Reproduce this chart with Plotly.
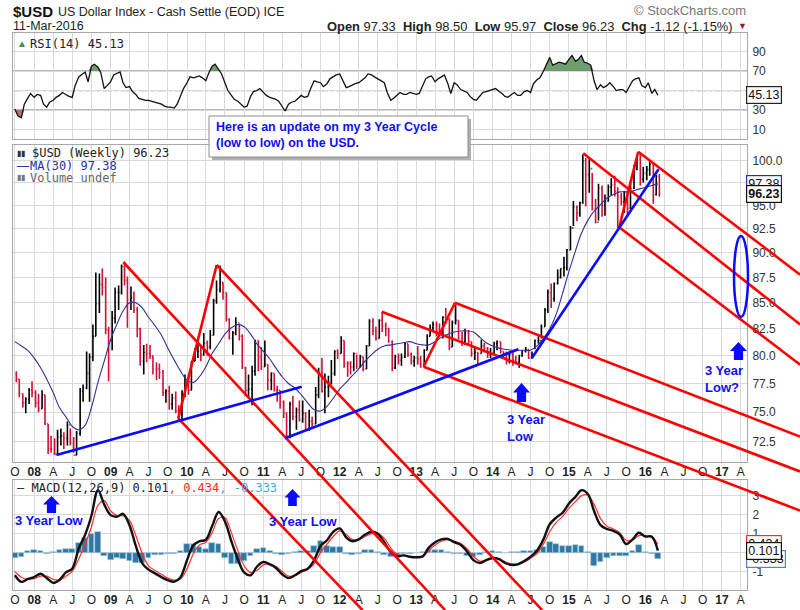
import numpy as np
import pandas as pd
import plotly.graph_objects as go

W, H = 800, 610

bar_dates = pd.date_range("2007-10-01", periods=203, freq="SMS") + pd.Timedelta(days=7)
highs = [78.6, 77.9, 76.6, 76.3, 77.1, 77.7,
         76.9, 76.6, 76.9, 76.5, 74.0, 73.0, 72.8, 73.5, 73.6, 73.3, 74.2, 73.6,
         72.9, 73.4, 77.1, 77.4, 80.4, 80.2, 82.9, 88.0, 87.9, 88.4, 87.5, 82.7,
         84.2, 86.5, 86.7, 88.8, 89.1, 87.6, 86.6, 86.1, 84.6, 82.6, 81.0, 81.1,
         81.0, 80.0, 79.4, 79.3, 78.7, 77.0, 77.3, 76.6, 76.8, 75.6, 76.9, 78.3,
         78.2, 79.5, 80.7, 81.3, 80.9, 82.1, 81.4, 82.4, 85.4, 87.2, 88.7, 87.0,
         86.0, 83.5, 82.3, 83.6, 83.0, 82.0, 79.0, 78.3, 79.1, 81.4, 81.4, 80.8,
         81.4, 79.2, 78.5, 78.4, 77.3, 76.9, 76.0, 75.0, 75.9, 76.4, 75.4, 76.0,
         76.0, 75.0, 75.2, 74.6, 77.2, 78.9, 79.8, 78.4, 78.2, 79.6, 80.5, 80.6,
         81.8, 81.4, 79.5, 79.5, 80.3, 80.1, 80.1, 79.9, 81.0, 83.4, 83.5, 82.7,
         83.4, 84.1, 83.1, 82.6, 81.4, 80.1, 80.2, 80.2, 81.2, 81.1, 80.3, 80.0,
         80.9, 80.0, 80.6, 82.0, 82.9, 83.2, 83.2, 83.0, 83.7, 84.5, 83.5, 83.3,
         84.8, 83.3, 82.2, 82.5, 82.4, 81.3, 80.8, 80.3, 81.5, 81.2, 80.8, 80.7,
         81.3, 81.4, 81.3, 80.4, 80.4, 80.4, 80.3, 80.0, 80.1, 80.5, 80.8, 80.6,
         80.4, 81.5, 81.8, 82.9, 84.5, 86.3, 86.9, 87.0, 88.3, 88.4, 89.6, 90.4,
         92.8, 95.5, 95.0, 95.4, 100.7, 100.3, 100.2, 98.6, 95.7, 97.4, 97.2, 96.2,
         97.3, 98.0, 98.3, 97.0, 96.4, 96.6, 96.3, 97.4, 99.5, 100.3, 100.8, 99.3,
         99.4, 99.9, 99.6, 98.4, 98.5]
lows = [77.6, 76.3, 75.4, 74.9, 75.7, 76.3,
        75.4, 75.0, 75.3, 73.9, 71.5, 71.6, 71.4, 71.5, 72.2, 71.9, 72.2, 72.2,
        71.6, 71.4, 73.0, 75.9, 77.0, 75.9, 79.5, 81.8, 84.0, 85.7, 82.0, 77.7,
        80.5, 83.0, 84.3, 85.8, 86.7, 82.6, 84.3, 84.0, 81.7, 79.1, 78.3, 79.4,
        79.7, 78.3, 77.8, 77.9, 76.4, 75.8, 75.2, 75.2, 74.9, 74.2, 74.3, 76.3,
        76.5, 76.9, 79.5, 79.8, 79.5, 80.0, 80.0, 80.6, 81.9, 84.9, 86.0, 85.3,
        83.2, 81.5, 80.1, 81.9, 81.4, 78.8, 76.4, 76.3, 75.6, 78.2, 78.6, 78.7,
        79.0, 76.9, 76.9, 76.8, 75.9, 75.3, 74.5, 72.8, 72.8, 74.3, 73.5, 74.2,
        74.1, 73.4, 73.4, 73.6, 74.0, 76.2, 76.7, 74.9, 76.3, 77.4, 78.2, 79.7,
        80.2, 78.9, 78.1, 78.3, 78.6, 78.8, 78.9, 78.6, 78.8, 80.9, 81.9, 81.4,
        81.6, 82.2, 81.8, 81.2, 78.6, 78.8, 79.2, 79.1, 79.8, 79.9, 79.2, 79.0,
        79.2, 78.9, 79.1, 80.5, 81.8, 82.3, 81.8, 81.7, 81.6, 83.0, 80.5, 80.8,
        82.9, 81.5, 80.9, 81.0, 81.0, 79.9, 79.6, 79.1, 80.2, 80.3, 79.8, 79.8,
        80.1, 80.5, 80.2, 79.7, 79.2, 79.3, 79.1, 79.2, 78.9, 79.9, 80.3, 79.7,
        79.8, 80.6, 81.1, 81.6, 82.7, 84.0, 84.5, 85.1, 86.8, 87.4, 87.6, 88.2,
        90.3, 92.8, 93.3, 93.8, 95.2, 94.9, 96.4, 94.5, 93.1, 93.4, 93.8, 93.9,
        95.4, 96.1, 96.0, 92.6, 95.0, 94.2, 93.8, 94.6, 96.8, 98.9, 97.2, 97.5,
        97.8, 98.3, 95.2, 96.1, 95.97]
closes = [77.9, 76.6, 75.8, 76.1, 76.9, 76.7,
          75.8, 75.3, 76.5, 74.0, 71.9, 71.9, 71.5, 72.9, 73.0, 72.8, 73.9, 72.4,
          71.4, 73.2, 76.8, 77.1, 78.4, 79.9, 81.8, 84.9, 86.8, 86.5, 82.4, 81.4,
          83.5, 86.0, 86.0, 88.6, 87.2, 85.3, 85.5, 84.3, 82.5, 79.5, 80.3, 80.2,
          80.0, 78.8, 78.8, 78.5, 76.7, 76.8, 75.7, 76.2, 75.1, 74.8, 76.5, 77.9,
          76.9, 79.5, 80.4, 80.4, 80.1, 81.2, 80.8, 81.9, 85.2, 86.3, 87.0, 86.0,
          83.4, 81.6, 82.1, 83.1, 81.8, 78.9, 76.9, 77.0, 78.6, 81.4, 79.9, 79.0,
          79.2, 77.8, 78.4, 76.9, 76.9, 75.9, 74.9, 73.0, 75.7, 74.6, 75.2, 74.3,
          74.9, 73.6, 74.2, 74.0, 76.5, 78.5, 76.8, 77.2, 77.6, 78.4, 80.4, 80.2,
          81.4, 79.3, 79.3, 79.0, 80.2, 79.0, 79.9, 78.8, 80.9, 83.2, 82.3, 81.6,
          83.3, 82.8, 82.5, 81.3, 78.9, 79.9, 79.6, 79.9, 81.1, 80.1, 79.5, 79.8,
          79.7, 79.2, 80.5, 81.8, 82.6, 82.9, 82.3, 82.0, 83.6, 83.4, 80.8, 83.1,
          83.3, 81.6, 81.3, 82.1, 81.3, 80.2, 80.3, 80.2, 80.9, 80.7, 80.1, 80.2,
          81.1, 81.3, 80.4, 79.8, 79.5, 80.1, 79.6, 79.4, 80.0, 80.4, 80.6, 79.8,
          80.1, 81.4, 81.4, 82.7, 84.3, 86.0, 85.4, 86.9, 87.5, 88.4, 88.5, 90.3,
          92.6, 94.8, 94.2, 95.3, 100.0, 98.4, 99.1, 94.6, 93.2, 96.9, 95.0, 95.5,
          97.0, 97.3, 96.6, 96.0, 95.4, 96.4, 94.7, 96.9, 99.0, 100.2, 97.9, 98.6,
          99.0, 99.6, 96.2, 98.2, 96.23]
opens = [78.3] + closes[:-1]

# RSI(14), read every half month
rsi_dates = pd.date_range("2007-10-01", periods=203, freq="SMS")
rsi = [31, 24, 22, 36, 42, 47, 43, 46, 45, 36, 33, 38, 40, 43, 45, 48, 46, 44, 43, 55,
       64, 66, 69, 59, 75, 77, 74, 68, 52, 55, 59, 66, 68, 69, 58, 53, 54, 49, 46, 42,
       41, 40, 40, 39, 38, 37, 36, 34, 33, 33, 32, 36, 44, 52, 58, 64, 63, 64, 65, 63,
       60, 68, 75, 77, 72, 67, 58, 50, 45, 41, 39, 36, 33, 34, 44, 49, 50, 52, 48, 45,
       43, 42, 41, 39, 33, 29, 36, 38, 39, 42, 45, 43, 44, 52, 60, 59, 58, 54, 57, 62,
       64, 66, 67, 60, 53, 54, 56, 57, 58, 60, 63, 67, 66, 64, 62, 60, 58, 48, 40, 42,
       45, 48, 46, 46, 48, 47, 46, 47, 55, 62, 64, 65, 59, 62, 64, 66, 57, 47, 58, 56,
       51, 50, 48, 44, 41, 40, 44, 48, 49, 50, 51, 52, 49, 47, 44, 43, 46, 48, 45, 45,
       49, 50, 48, 57, 61, 63, 70, 77, 84, 76, 78, 79, 78, 77, 82, 86, 80, 82, 86, 79,
       78, 76, 60, 51, 56, 53, 55, 58, 54, 50, 51, 51, 48, 53, 60, 62, 63, 55, 53, 58,
       47, 51, 45.13]

# monthly readings of MA(30) and MACD(12,26,9)
m_dates = pd.date_range("2007-10-01", periods=102, freq="MS")
ma30 = [81.3, 80.9, 80.5, 79.8, 78.9, 77.9, 76.7, 75.4, 74.6, 73.8,
        73.5, 73.9, 75.4, 77.6, 79.5, 81.5, 83.0, 84.2, 85.0, 85.0,
        84.5, 83.6, 82.8, 81.9, 80.7, 79.6, 78.6, 77.8, 77.6, 78.1,
        79.0, 80.2, 81.1, 82.0, 82.6, 82.9, 82.7, 82.0, 81.1, 80.4,
        79.7, 78.9, 78.1, 77.5, 77.1, 76.5, 75.8, 75.2, 75.1, 75.5,
        76.2, 77.0, 77.6, 78.2, 78.8, 79.5, 80.1, 80.6, 80.9, 81.0,
        81.1, 81.2, 81.3, 81.1, 81.0, 81.0, 81.3, 81.7, 82.0, 82.2,
        82.3, 82.3, 82.2, 81.7, 81.2, 80.9, 80.7, 80.6, 80.5, 80.5,
        80.5, 80.5, 80.9, 81.6, 82.5, 83.9, 85.9, 88.1, 90.2, 92.0,
        93.4, 94.4, 95.1, 95.8, 96.2, 96.5, 96.5, 96.6, 96.8, 97.0,
        97.2, 97.38]
macd = [-1.2, -1.55, -1.4, -1.3, -1.12, -1.35, -1.6, -1.45, -1.05, -0.85,
        0.2, 0.95, 1.95, 3.3, 2.55, 1.98, 1.9, 2.05, 1.45, 0.35,
        -0.57, -0.9, -1.1, -1.3, -1.46, -1.54, -1.3, -0.4, 0.4, 0.6,
        0.68, 1.4, 2.15, 1.65, 0.6, -0.35, -1.05, -1.2, -0.75, -0.5,
        -0.62, -0.8, -1.15, -1.35, -1.2, -0.98, -0.85, -0.4, 0.35, 0.65,
        1.1, 1.28, 0.8, 0.6, 0.7, 0.95, 1.1, 1.0, 0.55, 0.02,
        -0.2, -0.15, -0.22, -0.25, -0.2, 0.25, 0.55, 0.7, 0.72, 0.55,
        0.42, 0.05, -0.4, -0.55, -0.4, -0.28, -0.35, -0.55, -0.65, -0.62,
        -0.45, -0.22, 0.1, 0.7, 1.5, 1.85, 2.1, 2.6, 2.95, 3.3,
        3.1, 2.2, 1.45, 1.25, 1.15, 0.95, 0.45, 0.7, 1.05, 0.85,
        0.84, 0.101]
signal = [-1.0, -1.3, -1.42, -1.38, -1.25, -1.25, -1.42, -1.45, -1.25, -1.0,
          -0.35, 0.45, 1.35, 2.5, 2.75, 2.2, 1.95, 1.95, 1.7, 0.9,
          -0.05, -0.7, -0.95, -1.15, -1.35, -1.45, -1.4, -0.85, -0.05, 0.4,
          0.55, 1.05, 1.8, 1.85, 1.05, 0.1, -0.7, -1.05, -0.95, -0.65,
          -0.6, -0.72, -1.0, -1.25, -1.22, -1.05, -0.9, -0.6, 0.0, 0.45,
          0.85, 1.15, 0.95, 0.7, 0.68, 0.85, 1.0, 1.02, 0.75, 0.25,
          -0.1, -0.15, -0.2, -0.23, -0.2, 0.1, 0.4, 0.6, 0.68, 0.6,
          0.48, 0.2, -0.2, -0.45, -0.42, -0.33, -0.35, -0.48, -0.6, -0.6,
          -0.5, -0.3, -0.05, 0.45, 1.1, 1.6, 1.9, 2.35, 2.7, 3.0,
          3.05, 2.55, 1.8, 1.4, 1.25, 1.05, 0.65, 0.65, 0.9, 0.88,
          0.85, 0.434]
hist = [-0.3, -0.25, 0.1, 0.12, 0.1, -0.05, 0.05, 0.15, 0.2, 0.2,
        0.5, 0.75, 1.0, 1.1, -0.2, -0.4, -0.3, -0.35, -0.45, -0.55,
        -0.57, -0.3, -0.15, -0.12, -0.1, -0.1, 0.1, 0.45, 0.45, 0.3,
        0.2, 0.5, 0.45, -0.3, -0.6, -0.6, -0.45, -0.2, 0.2, 0.22,
        0.1, -0.1, -0.15, -0.1, 0.05, 0.08, 0.1, 0.35, 0.6, 0.35,
        0.3, 0.28, -0.1, -0.12, -0.05, 0.12, 0.15, 0.05, -0.15, -0.25,
        -0.15, -0.05, -0.05, 0.0, 0.05, 0.15, 0.15, 0.12, 0.05, -0.1,
        -0.1, -0.2, -0.25, -0.12, 0.05, 0.1, 0.05, 0.0, 0.05, 0.05,
        0.08, 0.1, 0.15, 0.3, 0.55, 0.45, 0.35, 0.35, 0.4, 0.35,
        0.05, -0.7, -0.5, -0.3, -0.2, -0.2, -0.2, 0.1, 0.4, 0.05,
        -0.1, -0.333]

# hand-drawn trend lines: start date/price -> end date/price
red_x0 = ["2009-03-03", "2009-11-20", "2009-11-20", "2010-05-23", "2012-07-20", "2013-07-05",
          "2013-02-05", "2013-02-05", "2015-03-10", "2015-11-28", "2015-08-29", "2015-08-29"]
red_y0 = [89.03, 74.47, 74.47, 88.75, 84.13, 85.00, 79.00, 79.00, 100.85, 101.03, 92.66, 92.66]
red_x1 = ["2013-05-19", "2012-04-19", "2010-05-23", "2014-08-26", "2018-01-10", "2018-01-10",
          "2018-01-10", "2013-07-05", "2018-01-10", "2018-01-10", "2018-01-10", "2015-11-28"]
red_y1 = [59.8, 59.8, 88.75, 59.8, 70.07, 72.93, 67.01, 85.00, 82.91, 87.78, 79.19, 101.03]
blue_x0 = ["2008-04-17", "2011-04-15", "2014-07-07"]
blue_y0 = [71.41, 72.79, 79.77]
blue_x1 = ["2011-07-03", "2014-05-04", "2016-03-04"]
blue_y1 = [77.21, 80.59, 99.02]

price_ticks = [72.5, 75.0, 77.5, 80.0, 82.5, 85.0, 87.5, 90.0, 92.5, 95.0, 97.5, 100.0]
rsi_ticks = [10, 30, 50, 70, 90]
macd_ticks = [-1, 0, 1, 2, 3]

assert len(highs) == len(lows) == len(closes) == len(rsi) == 203
assert len(ma30) == len(macd) == len(signal) == len(hist) == 102


def dom(top, bottom):
    return [1 - bottom / H, 1 - top / H]


def pp(x, y):
    return x / W, 1 - y / H


FONT = "Liberation Sans, Arial, sans-serif"
MONO = "DejaVu Sans Mono, monospace"
BLUE = "#1010f0"

fig = go.Figure()

# RSI panel
rsi_arr = np.array(rsi, dtype=float)
n = len(rsi)
fig.add_trace(go.Scatter(x=rsi_dates, y=[70] * n, line=dict(width=0), xaxis="x", yaxis="y", hoverinfo="skip"))
fig.add_trace(go.Scatter(x=rsi_dates, y=np.maximum(rsi_arr, 70), fill="tonexty", fillcolor="rgba(98,148,98,0.9)",
                         line=dict(width=0), xaxis="x", yaxis="y", hoverinfo="skip"))
fig.add_trace(go.Scatter(x=rsi_dates, y=[30] * n, line=dict(width=0), xaxis="x", yaxis="y", hoverinfo="skip"))
fig.add_trace(go.Scatter(x=rsi_dates, y=np.minimum(rsi_arr, 30), fill="tonexty", fillcolor="rgba(180,100,95,0.9)",
                         line=dict(width=0), xaxis="x", yaxis="y", hoverinfo="skip"))
fig.add_trace(go.Scatter(x=rsi_dates, y=rsi, mode="lines", line=dict(color="#111", width=1.3),
                         xaxis="x", yaxis="y"))

# price panel
fig.add_trace(go.Ohlc(x=bar_dates, open=opens, high=highs, low=lows, close=closes,
                      increasing_line_color="#000000", decreasing_line_color="#d01038",
                      line=dict(width=1.6), tickwidth=0.35, xaxis="x2", yaxis="y2"))
fig.add_trace(go.Scatter(x=m_dates, y=ma30, mode="lines", line=dict(color="#30309a", width=1.1, shape="spline"),
                         xaxis="x2", yaxis="y2"))

# MACD panel
fig.add_trace(go.Bar(x=m_dates, y=hist, marker=dict(color="#2f78a4", line=dict(color="#a9cbe0", width=0.6)),
                     width=27 * 86400000, xaxis="x3", yaxis="y3"))
fig.add_trace(go.Scatter(x=m_dates, y=signal, mode="lines", line=dict(color="#ff3030", width=1.2, shape="spline"),
                         xaxis="x3", yaxis="y3"))
fig.add_trace(go.Scatter(x=m_dates, y=macd, mode="lines", line=dict(color="#111", width=2.4, shape="spline"),
                         xaxis="x3", yaxis="y3"))

# trend lines on a full-figure overlay with the same date / log-price scale
for a, b, c, d in zip(red_x0, red_y0, red_x1, red_y1):
    fig.add_trace(go.Scatter(x=[a, c], y=[b, d], mode="lines", line=dict(color="#ff0000", width=2.6),
                             xaxis="x4", yaxis="y4"))
for a, b, c, d in zip(blue_x0, blue_y0, blue_x1, blue_y1):
    fig.add_trace(go.Scatter(x=[a, c], y=[b, d], mode="lines", line=dict(color="#0a0aff", width=2.6),
                             xaxis="x4", yaxis="y4"))

# quarterly ticks
qtr = pd.date_range("2007-10-01", "2017-04-01", freq="QS")
qtr_text = []
for d in qtr:
    if d.month == 1:
        qtr_text.append("<b>%02d</b>" % (d.year % 100))
    else:
        qtr_text.append({4: "A", 7: "J", 10: "O"}[d.month])

x_range = ["2007-09-22", "2017-05-01"]
xdom = [13 / W, 747 / W]
grid = "#d9d9d9"
border = "#a8a8a8"
tickfont = dict(family=FONT, size=12, color="#222")

xcommon = dict(type="date", range=x_range, domain=xdom, showgrid=True, gridcolor=grid, tickvals=qtr,
               ticktext=qtr_text, ticks="", showline=True, linecolor=border, mirror=True,
               tickfont=tickfont, zeroline=False, automargin=False, ticklabelstandoff=-1)
ycommon = dict(side="right", showgrid=True, gridcolor=grid, ticks="", showline=True, linecolor=border,
               mirror=True, tickfont=dict(family=FONT, size=12, color="#333"), zeroline=False,
               automargin=False, ticklabelstandoff=2)

lg = lambda v: np.log10(v)

fig.update_layout(
    width=W, height=H, margin=dict(l=0, r=0, t=0, b=0, pad=0, autoexpand=False),
    paper_bgcolor="white", plot_bgcolor="rgba(0,0,0,0)", showlegend=False, hovermode=False,
    bargap=0,
    xaxis=dict(xcommon, anchor="y", showticklabels=False),
    xaxis2=dict(xcommon, anchor="y2", rangeslider=dict(visible=False)),
    xaxis3=dict(xcommon, anchor="y3"),
    yaxis=dict(ycommon, domain=dom(33, 139), range=[0.3, 109], tickvals=rsi_ticks,
               ticktext=["10", "30", "", "70", "90"], anchor="x"),
    yaxis2=dict(ycommon, domain=dom(145, 462), type="log", range=[1.85029, 2.0078],
                tickvals=price_ticks, ticktext=["" if v == 97.5 else "%.1f" % v for v in price_ticks],
                anchor="x2"),
    yaxis3=dict(ycommon, domain=dom(480, 590), range=[-1.98, 3.84], tickvals=macd_ticks,
                ticktext=["-1", "", "1", "2", "3"], anchor="x3"),
    xaxis4=dict(type="date", domain=[0, 1], range=["2007-07-22", "2018-01-09 10:00"], visible=False,
                anchor="y4", automargin=False),
    yaxis4=dict(type="log", domain=[0, 1], range=[1.77674, 2.07985], visible=False, anchor="x4",
                automargin=False),
)

shapes = []
# RSI reference levels
for lvl in [30, 70]:
    shapes.append(dict(type="line", xref="x domain", yref="y", x0=0, x1=1, y0=lvl, y1=lvl,
                       line=dict(color="#707070", width=1.3), layer="below"))
shapes.append(dict(type="line", xref="x domain", yref="y", x0=0, x1=1, y0=50, y1=50,
                   line=dict(color="#8a8a8a", width=1.2, dash="dashdot"), layer="below"))

# comment box with shadow
bx0, by0, bx1, by1 = 209, 116, 468, 157
shapes.append(dict(type="rect", xref="paper", yref="paper", x0=(bx0 + 3) / W, x1=(bx1 + 3) / W,
                   y0=1 - (by1 + 3) / H, y1=1 - (by0 + 3) / H, fillcolor="#b0b0b0", line=dict(width=0),
                   layer="above"))
shapes.append(dict(type="rect", xref="paper", yref="paper", x0=bx0 / W, x1=bx1 / W,
                   y0=1 - by1 / H, y1=1 - by0 / H, fillcolor="white", line=dict(color="#8c8c8c", width=1),
                   layer="above"))

# blue ellipse
shapes.append(dict(type="circle", xref="paper", yref="paper", x0=734 / W, x1=748 / W,
                   y0=1 - 317 / H, y1=1 - 236 / H, line=dict(color="#0a0aff", width=2.5), layer="above"))


def arrow_path(cx, top, w, h):
    hw, sw, mid = w / 2, w * 0.27, top + h * 0.5
    pts = [(cx, top), (cx + hw, mid), (cx + sw, mid), (cx + sw, top + h),
           (cx - sw, top + h), (cx - sw, mid), (cx - hw, mid)]
    return "M " + " L ".join("%.5f,%.5f" % pp(x, y) for x, y in pts) + " Z"


for cx, top, w, h in [(51.5, 496, 17, 17), (292.5, 489, 16, 17), (521.5, 383, 17, 19), (738.5, 342, 17, 18)]:
    shapes.append(dict(type="path", xref="paper", yref="paper", path=arrow_path(cx, top, w, h),
                       fillcolor="#0a0aff", line=dict(width=0), layer="above"))

fig.update_layout(shapes=shapes)

ann = []


def text(x, y, s, size=12, color="#111", family=FONT, anchor="left", **kw):
    px_, py_ = pp(x, y)
    ann.append(dict(x=px_, y=py_, xref="paper", yref="paper", text=s, showarrow=False, xanchor=anchor,
                    yanchor="middle", font=dict(family=family, size=size, color=color), **kw))


# header
text(11, 12, "<b>$USD</b>", size=15, color="#111")
text(56, 12, "US Dollar Index - Cash Settle (EOD) ICE", size=12.5, color="#222")
text(11, 26, "11-Mar-2016", size=12.5, color="#222")
text(748, 11, "© StockCharts.com", size=13, color="#777", anchor="right")
text(735, 26, "<b>Open</b> 97.33  <b>High</b> 98.50  <b>Low</b> 95.97  <b>Close</b> 96.23  "
              "<b>Chg</b> -1.12 (-1.15%)", size=12.9, color="#222", anchor="right")
text(736, 26, "▼", size=9, color="#b01030")

# panel legends
text(15, 44, "▲", size=10, color="#4a8a4a")
text(28, 44, "RSI(14) 45.13", size=12, family=MONO, color="#222")
text(15, 153, "▮▮", size=8, color="#333")
text(30, 153, "$USD (Weekly) 96.23", size=12, family=MONO, color="#222")
text(15, 166, "—", size=12, color="#30309a")
text(28, 166, "MA(30) 97.38", size=12, family=MONO, color="#30309a")
text(15, 178, "▮▮", size=8, color="#777")
text(28, 178, "Volume undef", size=12, family=MONO, color="#666")
text(15, 488, "— MACD(12,26,9) 0.101<span style='color:#ff2a2a'>, 0.434</span>"
              "<span style='color:#4aa6d8'>, -0.333</span>", size=12, family=MONO, color="#222")

# comment box text
text(214, 127, "<b>Here is an update on my 3 Year Cycle</b>", size=12.5, color=BLUE)
text(214, 143, "<b>(low to low) on the USD.</b>", size=12.5, color=BLUE)

# cycle-low labels
text(13, 520, "<b>3 Year Low</b>", size=13, color=BLUE)
text(267, 521, "<b>3 Year Low</b>", size=13, color=BLUE)
text(505, 419, "<b>3 Year</b>", size=13, color=BLUE)
text(505, 436, "<b>Low</b>", size=13, color=BLUE)
text(703, 370, "<b>3 Year</b>", size=13, color=BLUE)
text(703, 387, "<b>Low?</b>", size=13, color=BLUE)


# value tags on the right axis
def tag(yref, yval, s, edge, bold=False):
    ann.append(dict(x=746 / W, xref="paper", y=yval, yref=yref, text=("<b>%s</b>" % s) if bold else s,
                    showarrow=False, xanchor="left", yanchor="middle", bgcolor="white", bordercolor=edge,
                    borderwidth=1.2, borderpad=1, font=dict(family=FONT, size=12.5, color="#111")))


tag("y", rsi[-1], "45.13", "#222")
tag("y2", lg(ma30[-1]), "97.38", "#30309a")
tag("y2", lg(closes[-1]), "96.23", "#111", bold=True)
tag("y3", signal[-1], "0.434", "#ff2a2a")
tag("y3", hist[-1], "-0.333", "#4a86c8")
tag("y3", macd[-1], "0.101", "#111")

fig.update_layout(annotations=ann)

# the page body has a default 8px margin; drop it so the chart sits at the window's corner
fig.write_html("out.html", config={"displayModeBar": False},
               post_script="document.body.style.margin='0';")
